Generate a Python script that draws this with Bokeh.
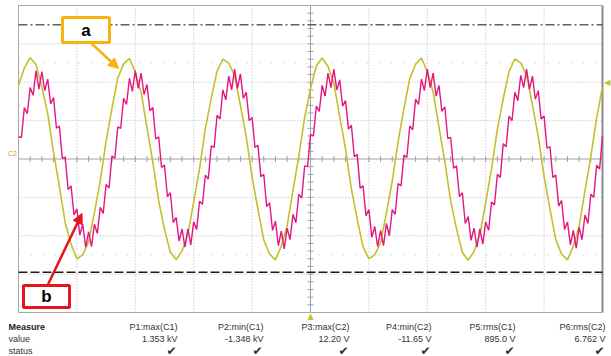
import numpy as np
from bokeh.plotting import figure
from bokeh.models import Range1d, BoxAnnotation, Label, Arrow, NormalHead
from bokeh.embed import file_html
from bokeh.resources import INLINE

# ---------------- data ----------------
# time base: 10 ms/div, 10 divisions; C1: 500 V/div, C2: 5 V/div
c1_time_ms = np.arange(0, 100.5, 1.0)
c1_volts = [960, 1185, 1320, 1230, 940, 590, 90, -360, -830, -1110,
            -1300, -1250, -1080, -700, -285, 235, 660, 1055, 1240, 1310,
            1135, 865, 410, -40, -545, -915, -1215, -1310, -1200, -985,
            -560, -125, 395, 790, 1145, 1300, 1250, 1085, 700, 290,
            -235, -655, -1055, -1240, -1315, -1135, -870, -410, 35, 545,
            910, 1215, 1315, 1205, 985, 560, 130, -390, -785, -1145,
            -1300, -1250, -1090, -705, -290, 230, 655, 1050, 1235, 1315,
            1140, 870, 415, -35, -545, -910, -1215, -1320, -1205, -985,
            -565, -130, 390, 785, 1140, 1305, 1250, 1090, 705, 295,
            -230, -650, -1050, -1240, -1315, -1135, -875, -415, 30, 540,
            940]

c2_time_ms = np.arange(0, 100.25, 0.5)
c2_volts = [2.9, 2.8, 6.7, 5.9, 9.3, 8.3, 11.5, 9.1, 11.4, 8.9,
            10.4, 7.2, 8.0, 4.0, 4.3, 0.1, 0.2, -4.0, -3.5, -7.3,
            -6.5, -9.9, -8.5, -11.5, -9.5, -11.4, -8.5, -9.7, -6.3, -7.1,
            -3.3, -3.8, 0.4, 0.1, 4.2, 4.0, 7.9, 7.1, 10.5, 8.8,
            11.5, 9.2, 11.2, 8.4, 9.7, 6.3, 6.7, 2.6, 2.9, -1.1,
            -0.8, -4.9, -4.4, -8.3, -7.6, -10.7, -9.1, -11.5, -9.1, -11.2,
            -8.2, -9.2, -5.5, -5.9, -2.1, -2.6, 1.7, 1.5, 5.7, 5.2,
            9.0, 7.7, 10.8, 9.0, 11.7, 9.2, 11.1, 7.9, 8.7, 5.0,
            5.4, 1.5, 1.8, -2.3, -2.0, -6.2, -5.7, -9.3, -8.1, -11.3,
            -9.4, -11.7, -9.0, -10.5, -7.2, -8.3, -4.6, -5.1, -0.9, -1.0,
            3.2, 3.0, 6.9, 6.2, 9.6, 8.2, 11.2, 9.3, 11.7, 9.0,
            10.3, 6.9, 7.6, 3.9, 4.4, 0.3, 0.6, -3.8, -3.5, -7.4,
            -6.6, -10.2, -8.8, -11.4, -9.3, -11.3, -8.4, -10.0, -6.6, -7.2,
            -3.2, -3.5, 0.5, 0.2, 4.3, 3.8, 7.8, 7.1, 10.4, 8.9,
            11.7, 9.3, 11.2, 8.2, 9.6, 6.2, 6.8, 2.7, 2.8, -1.2,
            -0.9, -4.9, -4.4, -8.4, -7.5, -10.6, -9.0, -11.5, -9.1, -11.1,
            -8.2, -9.3, -5.6, -6.0, -2.0, -2.4, 2.0, 1.6, 5.6, 5.0,
            8.7, 7.6, 10.9, 9.3, 11.7, 9.1, 10.8, 7.8, 8.9, 5.2,
            5.6, 1.4, 1.6, -2.4, -2.1, -6.1, -5.4, -9.2, -8.2, -11.2,
            -9.3, -11.6, -8.9, -10.5, -7.3, -8.4, -4.6, -5.0, -0.8, -1.3,
            3.0]

cursor_top_v = 1750
cursor_bottom_v = -1475
trigger_level_v = 1000

measure_header = "Measure"
row_names = ["value", "status"]
measure_names = ["P1:max(C1)", "P2:min(C1)", "P3:max(C2)",
                 "P4:min(C2)", "P5:rms(C1)", "P6:rms(C2)"]
measure_values = ["1.353 kV", "-1.348 kV", "12.20 V",
                  "-11.65 V", "895.0 V", "6.762 V"]

# ---------------- layout constants ----------------
YELLOW = "#c4bf2a"
MAGENTA = "#e3167f"
ORANGE = "#f7b30f"
RED = "#e8141b"
FONT = "Liberation Sans"

W, H = 611, 356
G_LEFT, G_RIGHT, G_TOP, G_BOTTOM = 18, 602, 5, 312     # graticule box in px
ms_per_px = 100.0 / (G_RIGHT - G_LEFT)
v_per_px = 4000.0 / (G_BOTTOM - G_TOP)
x0 = -G_LEFT * ms_per_px
x1 = 100 + (W - G_RIGHT) * ms_per_px
y1 = 2000 + G_TOP * v_per_px
y0 = -2000 - (H - G_BOTTOM) * v_per_px


def py(px):
    """vertical page pixel -> C1 volts (for annotation placement)"""
    return y1 - px * v_per_px


def pxx(px):
    """horizontal page pixel -> ms (for annotation placement)"""
    return (px - G_LEFT) * ms_per_px


p = figure(width=W, height=H, output_backend="svg", toolbar_location=None,
           x_range=Range1d(x0, x1), y_range=Range1d(y0, y1),
           x_axis_location=None, y_axis_location=None,
           min_border=0, min_border_left=0, min_border_right=0,
           min_border_top=0, min_border_bottom=0)
p.extra_y_ranges = {"c2": Range1d(y0 / 100.0, y1 / 100.0)}
p.background_fill_color = "white"
p.border_fill_color = "white"
p.outline_line_color = None
p.grid.visible = False

# graticule: dotted division lines
vx = [10, 20, 30, 40, 60, 70, 80, 90]
p.segment(x0=vx, y0=[-2000] * len(vx), x1=vx, y1=[2000] * len(vx),
          line_color="#b8b8b8", line_dash="1 2", line_width=1)
hy = [-1500, -1000, -500, 500, 1000, 1500]
p.segment(x0=[0] * len(hy), y0=hy, x1=[100] * len(hy), y1=hy,
          line_color="#b8b8b8", line_dash="1 2", line_width=1)
hh = [1250, -1250]
p.segment(x0=[0] * 2, y0=hh, x1=[100] * 2, y1=hh,
          line_color="#c4c4c4", line_dash="1 11", line_width=1)

# center lines with minor ticks
p.segment(x0=[0, 50], y0=[0, -2000], x1=[100, 50], y1=[0, 2000],
          line_color="#a0a0a0", line_width=1)
p.scatter(x=np.arange(0, 100.1, 2), y=np.zeros(51), marker="dash", angle=np.pi / 2,
          size=6, line_color="#a0a0a0")
p.scatter(x=np.full(41, 50.0), y=np.arange(-2000, 2001, 100), marker="dash",
          size=6, line_color="#a0a0a0")

# graticule border
p.segment(x0=[0, 0, 0], y0=[2000, -2000, -2000], x1=[100, 100, 0], y1=[2000, -2000, 2000],
          line_color="#a8a8a8", line_width=1)
p.segment(x0=[100], y0=[-2000], x1=[100], y1=[2000], line_color="#8a8a8a", line_width=2)

# cursors
p.segment(x0=[0], y0=[cursor_top_v], x1=[100], y1=[cursor_top_v], line_color="#606060",
          line_width=1.5, line_dash="9 3 2 3")
p.segment(x0=[0], y0=[cursor_bottom_v], x1=[100], y1=[cursor_bottom_v],
          line_color="#1e1e1e", line_width=1.5, line_dash="9 3")

# traces
p.line(c1_time_ms, c1_volts, line_color=YELLOW, line_width=1.6)
p.line(c2_time_ms, c2_volts, line_color=MAGENTA, line_width=1.4, y_range_name="c2")

# markers
p.add_layout(Label(x=pxx(12), y=py(153), text="C2", text_font_size="7px",
                   text_color="#c99a45", text_align="center", text_baseline="middle",
                   text_font=FONT))
p.add_layout(Label(x=50, y=py(316), text="\u25b2", text_font_size="8px", text_color=YELLOW,
                   text_align="center", text_baseline="middle", text_font="DejaVu Sans"))
p.add_layout(Label(x=100.3, y=trigger_level_v, text="\u25c0", text_font_size="8px",
                   text_color=YELLOW, text_align="left", text_baseline="middle",
                   text_font="DejaVu Sans"))

# annotation a
p.add_layout(BoxAnnotation(left=pxx(62), right=pxx(109), bottom=py(42), top=py(17),
                           fill_color="white", fill_alpha=1, line_color=ORANGE,
                           line_alpha=1, line_width=3))
p.add_layout(Label(x=pxx(85.5), y=py(30), text="a", text_font_size="17px",
                   text_font_style="bold", text_color="black", text_align="center",
                   text_baseline="middle", text_font=FONT))
p.add_layout(Arrow(end=NormalHead(size=10, fill_color=ORANGE, line_color=ORANGE),
                   x_start=pxx(90), y_start=py(42), x_end=pxx(118), y_end=py(68),
                   line_color=ORANGE, line_width=2.5))

# annotation b
p.add_layout(BoxAnnotation(left=pxx(23), right=pxx(69), bottom=py(307), top=py(285),
                           fill_color="white", fill_alpha=1, line_color=RED,
                           line_alpha=1, line_width=3))
p.add_layout(Label(x=pxx(46), y=py(296), text="b", text_font_size="17px",
                   text_font_style="bold", text_color="black", text_align="center",
                   text_baseline="middle", text_font=FONT))
p.add_layout(Arrow(end=NormalHead(size=10, fill_color=RED, line_color=RED),
                   x_start=pxx(47), y_start=py(285), x_end=pxx(81.5), y_end=py(213),
                   line_color=RED, line_width=2.5))

# measurement table
row_y = [py(326), py(338), py(350)]
col_right_px = [177, 263, 349, 431, 515, 605]
x_left = pxx(8)
p.add_layout(Label(x=x_left, y=row_y[0], text=measure_header, text_font_size="9px",
                   text_font_style="bold", text_color="#222222", text_baseline="middle",
                   text_font=FONT))
for i, name in enumerate(row_names):
    p.add_layout(Label(x=x_left, y=row_y[i + 1], text=name, text_font_size="9px",
                       text_color="#333333", text_baseline="middle", text_font=FONT))
for xr, nm, val in zip(col_right_px, measure_names, measure_values):
    p.add_layout(Label(x=pxx(xr), y=row_y[0], text=nm, text_font_size="9px",
                       text_color="#333333", text_align="right", text_baseline="middle",
                       text_font=FONT))
    p.add_layout(Label(x=pxx(xr), y=row_y[1], text=val, text_font_size="9px",
                       text_color="#333333", text_align="right", text_baseline="middle",
                       text_font=FONT))
    p.add_layout(Label(x=pxx(xr - 1), y=row_y[2], text="\u2714", text_font_size="12px",
                       text_color="#333333", text_align="right", text_baseline="middle",
                       text_font="DejaVu Sans"))

open("out.html", "w").write(file_html(p, INLINE))
